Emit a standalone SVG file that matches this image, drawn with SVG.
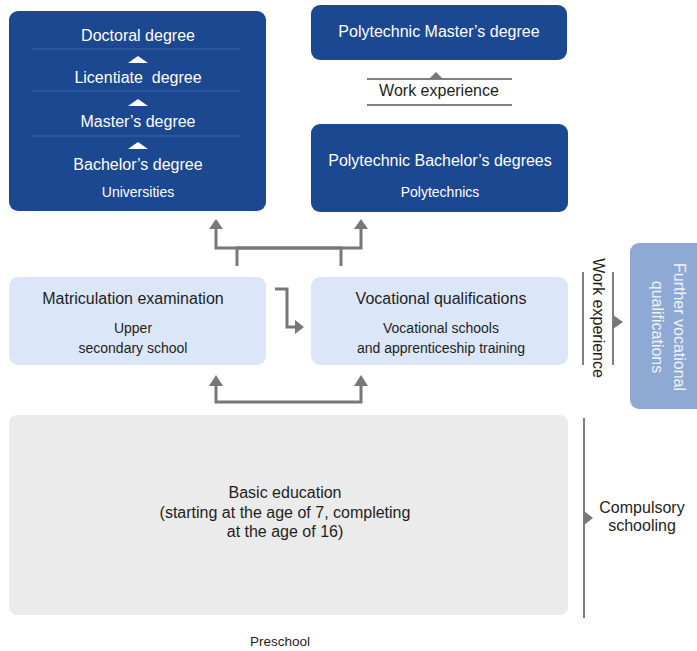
<svg xmlns="http://www.w3.org/2000/svg" width="697" height="651" viewBox="0 0 697 651">
<style>
.dark{fill:#1c4791}
.light{fill:#dbe7f8}
.wt{fill:#fff;font-family:"Liberation Sans",Arial,sans-serif;text-anchor:middle}
.bt{fill:#1e1e1e;font-family:"Liberation Sans",Arial,sans-serif;text-anchor:middle}
.f15{font-size:16px}
.f13{font-size:14px}
.div{stroke:#3f65a6;stroke-width:1}
.ln{stroke:#787878;stroke-width:3;fill:none}
.thin{stroke:#808080;stroke-width:2;fill:none}
.ah{fill:#787878}
</style>
<rect width="697" height="651" fill="#fff"/>
<g id="universities">
<rect class="dark" x="9" y="11" width="257" height="200" rx="9"/>
<line class="div" x1="32" y1="49" x2="240" y2="49"/>
<line class="div" x1="32" y1="91" x2="240" y2="91"/>
<line class="div" x1="32" y1="136" x2="240" y2="136"/>
<polygon fill="#fff" points="138,56 148,63 128,63"/>
<polygon fill="#fff" points="138,99 148,106 128,106"/>
<polygon fill="#fff" points="138,142 148,149 128,149"/>
<text class="wt f15" x="138" y="41">Doctoral degree</text>
<text class="wt f15" x="138" y="83">Licentiate&#160; degree</text>
<text class="wt f15" x="138" y="127">Master’s degree</text>
<text class="wt f15" x="138" y="170">Bachelor’s degree</text>
<text class="wt f13" x="138" y="197">Universities</text>
</g>
<g id="poly-master">
<rect class="dark" x="311" y="5" width="256" height="55" rx="9"/>
<text class="wt f15" x="439" y="37">Polytechnic Master’s degree</text>
</g>
<g id="work-exp-top">
<line class="thin" x1="367" y1="79" x2="512" y2="79"/>
<line class="thin" x1="367" y1="105" x2="512" y2="105"/>
<polygon class="ah" points="436,72 443,79 429,79"/>
<text class="bt f15" x="439" y="96">Work experience</text>
</g>
<g id="poly-bachelor">
<rect class="dark" x="311" y="124" width="257" height="88" rx="9"/>
<text class="wt f15" x="440" y="166">Polytechnic Bachelor’s degrees</text>
<text class="wt f13" x="440" y="197">Polytechnics</text>
</g>
<g id="matriculation">
<rect class="light" x="9" y="277" width="257" height="88" rx="9"/>
<text class="bt f15" x="133" y="304">Matriculation examination</text>
<text class="bt f13" x="133" y="333">Upper</text>
<text class="bt f13" x="133" y="353">secondary school</text>
</g>
<g id="vocational">
<rect class="light" x="311" y="277" width="257" height="88" rx="9"/>
<text class="bt f15" x="441" y="304">Vocational qualifications</text>
<text class="bt f13" x="441" y="333">Vocational schools</text>
<text class="bt f13" x="441" y="353">and apprenticeship training</text>
</g>
<g id="further-vocational">
<rect fill="#8ea9d4" x="630" y="243" width="80" height="166" rx="9"/>
<text class="wt f15" transform="translate(674,327) rotate(90)" x="0" y="0" style="fill:#eef3fb">Further vocational</text>
<text class="wt f15" transform="translate(657,327) rotate(90)" x="0" y="5" style="fill:#eef3fb">qualifications</text>
</g>
<g id="work-exp-side">
<line class="thin" x1="583" y1="272" x2="583" y2="365"/>
<line class="thin" x1="613" y1="272" x2="613" y2="365"/>
<polygon class="ah" points="623,322 613,315 613,329"/>
<text class="bt f15" transform="translate(593,318) rotate(90)" x="0" y="0">Work experience</text>
</g>
<g id="basic-education">
<rect fill="#ebebeb" x="9" y="415" width="559" height="200" rx="8"/>
<text class="bt f15" x="285" y="498">Basic education</text>
<text class="bt f15" x="285" y="518">(starting at the age of 7, completing</text>
<text class="bt f15" x="285" y="537">at the age of 16)</text>
</g>
<g id="compulsory">
<line class="thin" x1="584" y1="418" x2="584" y2="618"/>
<polygon class="ah" points="593,518 584,511 584,525"/>
<text class="bt f15" x="642" y="513">Compulsory</text>
<text class="bt f15" x="642" y="531">schooling</text>
</g>
<g id="preschool">
<text class="bt" style="font-size:13.5px" x="280" y="646">Preschool</text>
</g>
<g id="connectors">
<polyline class="ln" points="237,266 237,248 341,248 341,266"/>
<polyline class="ln" points="216,228 216,248 361,248 361,228"/>
<polygon class="ah" points="216,219 223,229 209,229"/>
<polygon class="ah" points="361,219 368,229 354,229"/>
<polyline class="ln" points="275,289 287,289 287,327 296,327"/>
<polygon class="ah" points="304,327 295,320 295,334"/>
<polyline class="ln" points="216,385 216,402 361,402 361,385"/>
<polygon class="ah" points="216,375 223,386 209,386"/>
<polygon class="ah" points="361,375 368,386 354,386"/>
</g>
</svg>
